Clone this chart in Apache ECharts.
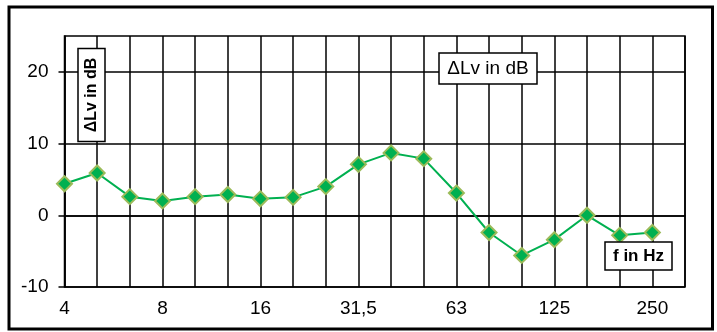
<!DOCTYPE html>
<html>
<head>
<meta charset="utf-8">
<script src="https://cdn.jsdelivr.net/npm/echarts@6/dist/echarts.min.js"></script>
<style>
html,body{margin:0;padding:0;background:#fff;}
#chart{width:717px;height:332px;}
</style>
</head>
<body>
<div id="chart"></div>
<script>
// third-octave band centre frequencies (Hz); last one is an empty slot
var categories = ['4','5','6,3','8','10','12,5','16','20','25','31,5','40','50','63','80','100','125','160','200','250','315'];
// ΔLv in dB
var deltaLv = [4.4, 5.9, 2.6, 2.0, 2.6, 2.9, 2.3, 2.5, 4.0, 7.1, 8.7, 7.9, 3.1, -2.4, -5.6, -3.4, 0.0, -2.8, -2.4];
var yTicks = [-10, 0, 10, 20];
var xLabelIdx = [0, 3, 6, 9, 12, 15, 18];

var chart = echarts.init(document.getElementById('chart'));
var FONT = '"Liberation Sans", Arial, sans-serif';
chart.setOption({
  animation: false,
  backgroundColor: '#fff',
  grid: {left: 64.5, top: 36, right: 32, bottom: 45, show: true, borderColor: '#000', borderWidth: 1.5},
  xAxis: {
    type: 'category',
    data: categories,
    boundaryGap: false,
    axisLine: {lineStyle: {color: '#000', width: 1.5}},
    axisTick: {show: false},
    axisLabel: {
      interval: function (i) { return xLabelIdx.indexOf(i) >= 0; },
      color: '#000', fontSize: 19, fontFamily: FONT, margin: 12
    },
    splitLine: {show: true, interval: 0, lineStyle: {color: '#000', width: 1.5}}
  },
  yAxis: {
    type: 'value',
    min: -10, max: 25, interval: 10,
    axisLine: {show: true, lineStyle: {color: '#000', width: 1.5}},
    axisTick: {show: true, length: 6, lineStyle: {color: '#000', width: 1.5}, customValues: yTicks},
    axisLabel: {color: '#000', fontSize: 19, fontFamily: FONT, margin: 16, customValues: yTicks},
    splitLine: {show: true, lineStyle: {color: '#000', width: 1.5}}
  },
  series: [{
    type: 'line',
    data: deltaLv,
    symbol: 'diamond',
    symbolSize: 15,
    lineStyle: {color: '#00b050', width: 2},
    itemStyle: {color: '#00b050', borderColor: '#9bbb59', borderWidth: 2},
    z: 5
  }],
  graphic: [
    {type: 'rect', shape: {x: 9, y: 7, width: 703.5, height: 322}, style: {fill: 'none', stroke: '#000', lineWidth: 3}, z: 100},
    {type: 'rect', shape: {x: 78, y: 48.5, width: 27, height: 93}, style: {fill: '#fff', stroke: '#000', lineWidth: 1.5}, z: 100},
    {type: 'text', x: 92, y: 95, rotation: Math.PI / 2, style: {text: '\u0394Lv in dB', fill: '#000', font: 'bold 16px ' + FONT, textAlign: 'center', textVerticalAlign: 'middle'}, z: 101},
    {type: 'rect', shape: {x: 439, y: 53, width: 98, height: 31}, style: {fill: '#fff', stroke: '#000', lineWidth: 1.5}, z: 100},
    {type: 'text', x: 488, y: 68.5, style: {text: '\u0394Lv in dB', fill: '#000', font: '19px ' + FONT, textAlign: 'center', textVerticalAlign: 'middle'}, z: 101},
    {type: 'rect', shape: {x: 605, y: 242, width: 67, height: 28}, style: {fill: '#fff', stroke: '#000', lineWidth: 1.5}, z: 100},
    {type: 'text', x: 638.5, y: 256, style: {text: 'f in Hz', fill: '#000', font: 'bold 17px ' + FONT, textAlign: 'center', textVerticalAlign: 'middle'}, z: 101}
  ]
});
</script>
</body>
</html>
